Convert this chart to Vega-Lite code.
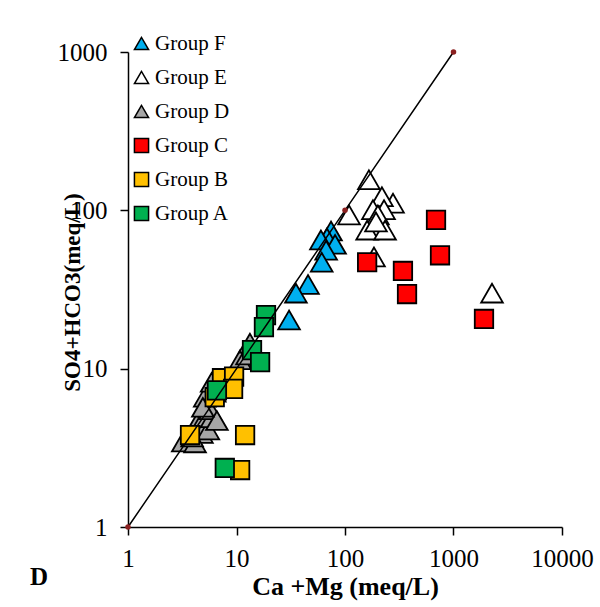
{
  "$schema": "https://vega.github.io/schema/vega-lite/v6.json",
  "width": 434,
  "height": 475,
  "autosize": {"type": "none"},
  "padding": {"left": 128, "top": 52, "right": 38, "bottom": 80},
  "background": "white",
  "config": {
    "view": {"stroke": null},
    "font": "Liberation Serif",
    "axis": {
      "grid": false,
      "domainColor": "black",
      "domainWidth": 1.5,
      "tickColor": "black",
      "tickWidth": 1.5,
      "tickSize": 8,
      "labelFont": "Liberation Serif",
      "labelFontSize": 25,
      "labelColor": "black",
      "labelFlush": false,
      "labelOverlap": false,
      "titleFont": "Liberation Serif",
      "titleFontWeight": "bold",
      "titleColor": "black"
    },
    "legend": {
      "title": null,
      "orient": "none",
      "legendX": 3,
      "legendY": -19,
      "padding": 0,
      "labelFont": "Liberation Serif",
      "labelFontSize": 21,
      "labelColor": "black",
      "labelOffset": 3,
      "rowPadding": 12,
      "symbolSize": 200,
      "symbolOpacity": 1
    }
  },
  "title": {
    "text": "D",
    "orient": "bottom",
    "anchor": "start",
    "frame": "group",
    "font": "Liberation Serif",
    "fontSize": 25,
    "fontWeight": "bold",
    "color": "black",
    "dx": -98,
    "offset": -34
  },
  "encoding": {
    "x": {
      "field": "x",
      "type": "quantitative",
      "scale": {"type": "log", "domain": [1, 10000], "nice": false},
      "axis": {
        "values": [1, 10, 100, 1000, 10000],
        "format": "d",
        "labelPadding": 11,
        "title": "Ca +Mg (meq/L)",
        "titleFontSize": 26,
        "titlePadding": 2
      }
    },
    "y": {
      "field": "y",
      "type": "quantitative",
      "scale": {"type": "log", "domain": [1, 1000], "nice": false},
      "axis": {
        "values": [1, 10, 100, 1000],
        "format": "d",
        "labelPadding": 13,
        "title": "SO4+HCO3(meq/L)",
        "titleFontSize": 23,
        "titleX": -56,
        "titleY": 240,
        "titleAngle": -90,
        "titleAlign": "center",
        "titleBaseline": "middle"
      }
    }
  },
  "layer": [
    {
      "data": {
        "values": [
          {"group": "Group F", "x": 74.3, "y": 74},
          {"group": "Group F", "x": 68.2, "y": 67},
          {"group": "Group F", "x": 60, "y": 65},
          {"group": "Group F", "x": 81, "y": 61},
          {"group": "Group F", "x": 67, "y": 56},
          {"group": "Group F", "x": 61, "y": 47},
          {"group": "Group F", "x": 45.6, "y": 34},
          {"group": "Group F", "x": 35.3, "y": 30},
          {"group": "Group F", "x": 30.5, "y": 20.3},
          {"group": "Group E", "x": 166, "y": 156},
          {"group": "Group E", "x": 109, "y": 93.5},
          {"group": "Group E", "x": 277, "y": 111},
          {"group": "Group E", "x": 219, "y": 122},
          {"group": "Group E", "x": 181, "y": 101},
          {"group": "Group E", "x": 229, "y": 101},
          {"group": "Group E", "x": 201, "y": 93.5},
          {"group": "Group E", "x": 160, "y": 75},
          {"group": "Group E", "x": 234, "y": 75},
          {"group": "Group E", "x": 193, "y": 84.5},
          {"group": "Group E", "x": 185, "y": 50.8},
          {"group": "Group E", "x": 2264, "y": 30},
          {"group": "Group D", "x": 3.2, "y": 3.44},
          {"group": "Group D", "x": 4.15, "y": 3.4},
          {"group": "Group D", "x": 4.3, "y": 4.5},
          {"group": "Group D", "x": 4.8, "y": 3.9},
          {"group": "Group D", "x": 5.5, "y": 4.1},
          {"group": "Group D", "x": 5.1, "y": 4.95},
          {"group": "Group D", "x": 5.9, "y": 4.9},
          {"group": "Group D", "x": 5.7, "y": 5.5},
          {"group": "Group D", "x": 6.6, "y": 4.7},
          {"group": "Group D", "x": 5.1, "y": 6.6},
          {"group": "Group D", "x": 5.9, "y": 8.2},
          {"group": "Group D", "x": 6.3, "y": 7.1},
          {"group": "Group D", "x": 10.8, "y": 11.4},
          {"group": "Group D", "x": 12.5, "y": 12.2},
          {"group": "Group D", "x": 13.3, "y": 14.5},
          {"group": "Group D", "x": 4.9, "y": 5.7},
          {"group": "Group D", "x": 3.9, "y": 3.7}
        ]
      },
      "mark": {"type": "point", "filled": true, "stroke": "black", "strokeWidth": 1.8, "opacity": 1, "size": 470},
      "encoding": {
        "color": {
          "field": "group",
          "type": "nominal",
          "scale": {
            "domain": ["Group F", "Group E", "Group D", "Group C", "Group B", "Group A"],
            "range": ["#00B0F0", "#FFFFFF", "#A6A6A6", "#FF0000", "#FFC000", "#00B050"]
          },
          "legend": {
            "encode": {
              "symbols": {
                "update": {
                  "stroke": {"value": "black"},
                  "strokeWidth": {"value": 1.8}
                }
              }
            }
          }
        },
        "shape": {
          "field": "group",
          "type": "nominal",
          "scale": {
            "domain": ["Group F", "Group E", "Group D", "Group C", "Group B", "Group A"],
            "range": ["triangle-up", "triangle-up", "triangle-up", "square", "square", "square"]
          },
          "legend": {
            "encode": {
              "symbols": {
                "update": {
                  "stroke": {"value": "black"},
                  "strokeWidth": {"value": 1.8}
                }
              }
            }
          }
        }
      }
    },
    {
      "data": {
        "values": [
          {"group": "Group C", "x": 690, "y": 87},
          {"group": "Group C", "x": 751, "y": 52},
          {"group": "Group C", "x": 160, "y": 47},
          {"group": "Group C", "x": 342, "y": 41.4},
          {"group": "Group C", "x": 373, "y": 29.6},
          {"group": "Group C", "x": 1910, "y": 20.6},
          {"group": "Group B", "x": 3.73, "y": 3.81},
          {"group": "Group B", "x": 7.35, "y": 8.7},
          {"group": "Group B", "x": 9.5, "y": 8.9},
          {"group": "Group B", "x": 9.3, "y": 7.45},
          {"group": "Group B", "x": 6.3, "y": 6.6},
          {"group": "Group B", "x": 12.0, "y": 3.81},
          {"group": "Group B", "x": 10.8, "y": 2.29},
          {"group": "Group A", "x": 18.7, "y": 21.8},
          {"group": "Group A", "x": 17.9, "y": 18.3},
          {"group": "Group A", "x": 13.9, "y": 13.1},
          {"group": "Group A", "x": 16.5, "y": 11.0},
          {"group": "Group A", "x": 6.6, "y": 7.3},
          {"group": "Group A", "x": 7.8, "y": 2.36}
        ]
      },
      "mark": {"type": "point", "filled": true, "stroke": "black", "strokeWidth": 1.8, "opacity": 1, "size": 340},
      "encoding": {
        "color": {"field": "group", "type": "nominal"},
        "shape": {"field": "group", "type": "nominal"}
      }
    },
    {
      "data": {
        "values": [
          {"x": 1, "y": 1},
          {"x": 100, "y": 100},
          {"x": 1000, "y": 1000}
        ]
      },
      "mark": {
        "type": "line",
        "color": "black",
        "strokeWidth": 1.5,
        "point": {"filled": true, "color": "#8B2020", "size": 30}
      },
      "encoding": {}
    }
  ]
}
